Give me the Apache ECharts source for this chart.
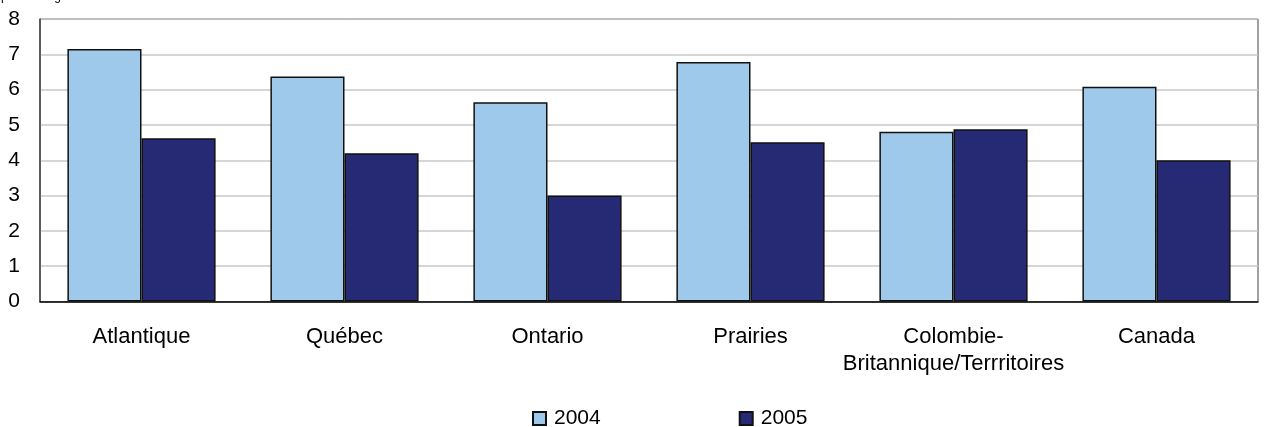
<!DOCTYPE html>
<html>
<head>
<meta charset="utf-8">
<script src="https://cdn.jsdelivr.net/npm/echarts@6/dist/echarts.min.js"></script>
<style>
  html, body { margin: 0; padding: 0; background: #fff; }
  #chart { width: 1270px; height: 427px; }
</style>
</head>
<body>
<div id="chart"></div>
<script>
// Regions and yearly values (percent)
const regions = ['Atlantique', 'Québec', 'Ontario', 'Prairies', 'Colombie-\nBritannique/Terrritoires', 'Canada'];
const values2004 = [7.15, 6.37, 5.64, 6.78, 4.81, 6.08];
const values2005 = [4.62, 4.20, 3.00, 4.51, 4.88, 4.00];
const yTicks = [0, 1, 2, 3, 4, 5, 6, 7, 8];

const FONT = 'Liberation Sans, Arial, sans-serif';
const chart = echarts.init(document.getElementById('chart'), null, { renderer: 'canvas' });

chart.setOption({
  animation: false,
  textStyle: { fontFamily: FONT },
  graphic: [{
    type: 'text',
    left: 1,
    top: -9,
    style: { text: 'pourcentage', font: '12px ' + FONT, fill: '#000' }
  }],
  legend: {
    left: 527,
    top: 403,
    itemWidth: 13,
    itemHeight: 13,
    itemGap: 138,
    icon: 'rect',
    textStyle: { fontSize: 21, color: '#000', fontFamily: FONT, padding: [0, 0, 0, 3] },
    data: ['2004', '2005']
  },
  grid: {
    left: 40, right: 12, top: 19, bottom: 125.5,
    show: true, borderColor: '#444', borderWidth: 1
  },
  xAxis: {
    type: 'category',
    data: regions,
    axisLine: { lineStyle: { color: '#000', width: 1.5 } },
    axisTick: { show: false },
    axisLabel: { interval: 0, fontSize: 22, color: '#000', margin: 22, lineHeight: 27, fontFamily: FONT }
  },
  yAxis: {
    type: 'value',
    min: yTicks[0],
    max: yTicks[yTicks.length - 1],
    interval: 1,
    axisLine: { show: true, lineStyle: { color: '#444', width: 1.5 } },
    axisTick: { show: false },
    axisLabel: { fontSize: 21, color: '#000', margin: 20, fontFamily: FONT },
    splitLine: { lineStyle: { color: '#c8c8c8', width: 1.5 } }
  },
  series: [
    {
      name: '2004',
      type: 'bar',
      data: values2004,
      barGap: '0%',
      barCategoryGap: '27%',
      itemStyle: { color: '#9ec9ea', borderColor: '#111', borderWidth: 1.5 }
    },
    {
      name: '2005',
      type: 'bar',
      data: values2005,
      itemStyle: { color: '#262973', borderColor: '#111', borderWidth: 1.5 }
    }
  ]
});
</script>
</body>
</html>
